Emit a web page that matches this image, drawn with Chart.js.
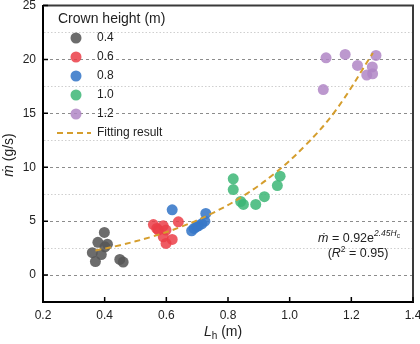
<!DOCTYPE html>
<html>
<head>
<meta charset="utf-8">
<script src="https://cdn.jsdelivr.net/npm/chart.js@4/dist/chart.umd.min.js"></script>
<style>
  html, body { margin: 0; padding: 0; background: #fff; }
  #wrap { width: 420px; height: 344px; }
</style>
</head>
<body>
<div id="wrap"><canvas id="massRateChart" width="420" height="344"></canvas></div>
<script>
// Mass loss rate vs. horizontal length, grouped by crown height
const crownHeights = ['0.4', '0.6', '0.8', '1.0', '1.2'];
const lh04 = [0.399, 0.378, 0.409, 0.401, 0.360, 0.389, 0.370, 0.449, 0.460];
const mdot04 = [3.95, 3.04, 2.86, 2.62, 2.07, 1.90, 1.25, 1.45, 1.20];
const lh06 = [0.558, 0.590, 0.639, 0.569, 0.574, 0.599, 0.590, 0.619, 0.599];
const mdot06 = [4.68, 4.57, 4.94, 4.32, 4.17, 4.17, 3.55, 3.30, 2.93];
const lh08 = [0.619, 0.682, 0.690, 0.698, 0.704, 0.715, 0.725, 0.728];
const mdot08 = [6.05, 4.10, 4.32, 4.50, 4.57, 4.75, 5.00, 5.71];
const lh10 = [0.817, 0.817, 0.841, 0.850, 0.890, 0.918, 0.960, 0.969];
const mdot10 = [8.92, 7.93, 6.82, 6.55, 6.55, 7.27, 8.30, 9.17];
const lh12 = [1.109, 1.118, 1.180, 1.220, 1.250, 1.268, 1.269, 1.280];
const mdot12 = [17.20, 20.15, 20.46, 19.44, 18.55, 19.30, 18.67, 20.37];
// dashed fitting curve
const fitLh = [0.37, 0.45, 0.55, 0.65, 0.75, 0.85, 0.95, 1.05, 1.15, 1.27];
const fitMdot = [2.28, 2.77, 3.53, 4.50, 5.75, 7.35, 9.40, 12.0, 15.3, 20.6];
const xTicks = [0.2, 0.4, 0.6, 0.8, 1.0, 1.2, 1.4];
const yTicks = [0, 5, 10, 15, 20, 25];

const FAM = "'Liberation Sans', Arial, Helvetica, 'DejaVu Sans', sans-serif";
const groupColors = ['rgba(88,88,88,0.88)', 'rgba(235,62,72,0.85)', 'rgba(55,120,200,0.88)',
                     'rgba(60,182,118,0.85)', 'rgba(176,134,198,0.85)'];
const fitColor = '#D59E2E';

function pts(xs, ys) { return xs.map((x, i) => ({ x: x, y: ys[i] })); }
const groups = [[lh04, mdot04], [lh06, mdot06], [lh08, mdot08], [lh10, mdot10], [lh12, mdot12]];

const datasets = [{
  label: 'Fitting result',
  data: pts(fitLh, fitMdot),
  showLine: true,
  borderColor: fitColor,
  borderWidth: 2,
  borderDash: [6, 4],
  pointRadius: 0,
  tension: 0.4,
  fill: false
}];
groups.forEach((g, i) => {
  datasets.push({
    label: crownHeights[i],
    data: pts(g[0], g[1]),
    backgroundColor: groupColors[i],
    borderWidth: 0,
    pointRadius: 5.5,
    pointHoverRadius: 5.5
  });
});

// draw text made of several runs (italics, sub/superscripts)
function drawRuns(ctx, runs, x, y, align) {
  let w = 0;
  runs.forEach(r => { ctx.font = r.font; r.w = ctx.measureText(r.t).width; w += r.w; });
  let cx = align === 'center' ? x - w / 2 : x;
  ctx.textAlign = 'left';
  ctx.textBaseline = 'alphabetic';
  runs.forEach(r => { ctx.font = r.font; ctx.fillText(r.t, cx, y + (r.dy || 0)); cx += r.w; });
}

const decor = {
  id: 'decor',
  afterDraw(chart) {
    const ctx = chart.ctx, a = chart.chartArea;
    const xs = chart.scales.x, ys = chart.scales.y;
    ctx.save();
    // top and right frame
    ctx.strokeStyle = '#3a3a3a';
    ctx.lineWidth = 2;
    ctx.beginPath();
    ctx.moveTo(a.left, a.top); ctx.lineTo(a.right, a.top); ctx.lineTo(a.right, a.bottom);
    ctx.stroke();
    // inward tick marks
    ctx.strokeStyle = '#000';
    ctx.lineWidth = 1.5;
    ctx.beginPath();
    xTicks.forEach(v => { const px = xs.getPixelForValue(v); ctx.moveTo(px, a.bottom); ctx.lineTo(px, a.bottom - 5); });
    yTicks.forEach(v => { const py = ys.getPixelForValue(v); ctx.moveTo(a.left, py); ctx.lineTo(a.left + 5, py); });
    ctx.stroke();

    ctx.fillStyle = '#222';
    // x title
    drawRuns(ctx, [
      { t: 'L', font: 'italic 14px ' + FAM },
      { t: 'h', font: '10px ' + FAM, dy: 3 },
      { t: ' (m)', font: '14px ' + FAM }
    ], 223, 336, 'center');
    // y title
    ctx.save();
    ctx.translate(13, 155);
    ctx.rotate(-Math.PI / 2);
    drawRuns(ctx, [
      { t: 'ṁ', font: 'italic 14px ' + FAM },
      { t: ' (g/s)', font: '14px ' + FAM }
    ], 0, 0, 'center');
    ctx.restore();

    // fit equation
    drawRuns(ctx, [
      { t: 'ṁ', font: 'italic 12.5px ' + FAM },
      { t: ' = 0.92e', font: '12.5px ' + FAM },
      { t: '2.45', font: 'italic 8.5px ' + FAM, dy: -6 },
      { t: 'H', font: 'italic 8.5px ' + FAM, dy: -6 },
      { t: 'c', font: '6.5px ' + FAM, dy: -4 }
    ], 359, 242, 'center');
    drawRuns(ctx, [
      { t: '(', font: '12.5px ' + FAM },
      { t: 'R', font: 'italic 12.5px ' + FAM },
      { t: '2', font: '8.5px ' + FAM, dy: -5 },
      { t: ' = 0.95)', font: '12.5px ' + FAM }
    ], 358, 257, 'center');

    // legend
    ctx.textBaseline = 'middle';
    ctx.textAlign = 'left';
    ctx.font = '14px ' + FAM;
    ctx.fillText('Crown height (m)', 58, 19);
    ctx.font = '12px ' + FAM;
    crownHeights.forEach((h, i) => {
      const cy = 38 + 19 * i;
      ctx.fillStyle = groupColors[i];
      ctx.beginPath(); ctx.arc(76, cy, 5.5, 0, Math.PI * 2); ctx.fill();
      ctx.fillStyle = '#222';
      ctx.fillText(h, 97, cy);
    });
    ctx.strokeStyle = fitColor;
    ctx.lineWidth = 2;
    ctx.setLineDash([6, 4]);
    ctx.beginPath(); ctx.moveTo(57, 133); ctx.lineTo(91, 133); ctx.stroke();
    ctx.setLineDash([]);
    ctx.fillText('Fitting result', 97, 133);
    ctx.restore();
  }
};

const ctx = document.getElementById('massRateChart').getContext('2d');
new Chart(ctx, {
  type: 'scatter',
  data: { datasets: datasets },
  options: {
    responsive: false,
    animation: false,
    layout: { padding: { left: 0, right: 7, top: 5, bottom: 0 } },
    plugins: { legend: { display: false }, tooltip: { enabled: false } },
    scales: {
      x: {
        type: 'linear',
        min: 0.2,
        max: 1.4,
        afterFit: s => { s.height = 42; s.paddingLeft = 0; s.paddingRight = 0; },
        grid: { drawOnChartArea: false, drawTicks: false },
        border: { color: '#000', width: 2 },
        ticks: {
          stepSize: 0.2,
          padding: 6,
          color: '#222',
          font: { family: FAM, size: 12 },
          callback: v => v.toFixed(1)
        }
      },
      y: {
        type: 'linear',
        min: -2.5,
        max: 25,
        afterFit: s => { s.width = 43; s.paddingTop = 0; s.paddingBottom = 0; },
        grid: {
          drawTicks: false,
          lineWidth: 1,
          color: c => {
            const v = c.tick ? c.tick.value : 0;
            if (v <= -2.5 || v >= 25) return 'rgba(0,0,0,0)';
            return Math.abs(v % 5) < 1e-6 ? '#8c8c8c' : '#cfcfcf';
          }
        },
        border: {
          color: '#000',
          width: 2,
          dash: c => {
            if (!c.tick) return [];
            return Math.abs(c.tick.value % 5) < 1e-6 ? [3, 3] : [1.5, 2];
          }
        },
        ticks: {
          stepSize: 2.5,
          autoSkip: false,
          padding: 7,
          color: '#222',
          font: { family: FAM, size: 12 },
          callback: v => (Math.abs(v % 5) < 1e-6 ? String(v) : '')
        }
      }
    }
  },
  plugins: [decor]
});
</script>
</body>
</html>
